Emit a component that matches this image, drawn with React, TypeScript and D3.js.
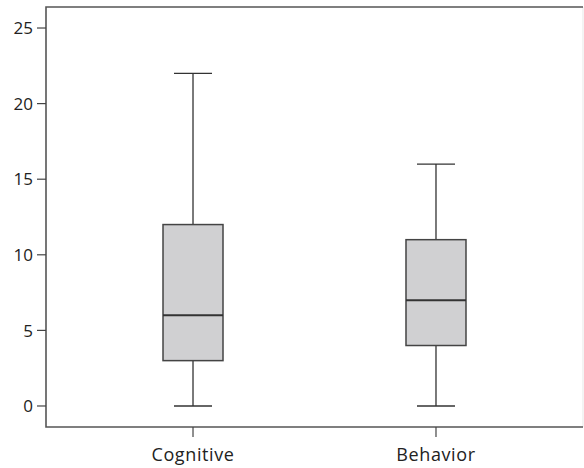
import { useEffect, useRef } from 'react'
import * as d3 from 'd3'

const categories = ['Cognitive', 'Behavior']
const whiskerLow = [0, 0]
const q1 = [3, 4]
const medians = [6, 7]
const q3 = [12, 11]
const whiskerHigh = [22, 16]
const yTicks = [0, 5, 10, 15, 20, 25]

export default function App() {
  const svgRef = useRef<SVGSVGElement>(null)

  useEffect(() => {
    if (!svgRef.current) return
    const svg = d3.select(svgRef.current)
    svg.selectAll('*').remove()

    const width = 584
    const height = 468
    const left = 46
    const right = 583
    const top = 7
    const bottom = 427
    const font = '"Open Sans", Lato, sans-serif'

    const y = d3.scaleLinear().domain([-1.39, 26.39]).range([bottom, top])
    const x = d3.scalePoint<string>().domain(categories).range([left, right]).padding(0.605)

    const data = categories.map((c, i) => ({
      name: c,
      lo: whiskerLow[i],
      q1: q1[i],
      med: medians[i],
      q3: q3[i],
      hi: whiskerHigh[i]
    }))

    // frame
    svg.append('rect')
      .attr('x', 0).attr('y', 0).attr('width', width).attr('height', height)
      .attr('fill', '#fff')
    svg.append('line')
      .attr('x1', right).attr('x2', right).attr('y1', top).attr('y2', bottom)
      .attr('stroke', '#ececec').attr('stroke-width', 1.2)
    svg.append('path')
      .attr('d', `M${right},${top}H${left}V${bottom}H${right}`)
      .attr('fill', 'none').attr('stroke', '#555').attr('stroke-width', 1.6)

    // y axis
    const yAxis = svg.append('g')
    yTicks.forEach(t => {
      yAxis.append('line')
        .attr('x1', left - 9).attr('x2', left).attr('y1', y(t)).attr('y2', y(t))
        .attr('stroke', '#444').attr('stroke-width', 1.2)
      yAxis.append('text')
        .attr('x', left - 13).attr('y', y(t)).attr('dy', '0.36em')
        .attr('text-anchor', 'end')
        .attr('font-family', font).attr('font-size', 17).attr('fill', '#222')
        .text(t)
    })

    // x axis
    const xAxis = svg.append('g')
    categories.forEach(c => {
      xAxis.append('line')
        .attr('x1', x(c)!).attr('x2', x(c)!).attr('y1', bottom).attr('y2', bottom + 10)
        .attr('stroke', '#444').attr('stroke-width', 1.2)
      xAxis.append('text')
        .attr('x', x(c)!).attr('y', 461)
        .attr('text-anchor', 'middle')
        .attr('font-family', font).attr('font-size', 18)
        .attr('letter-spacing', 0.6).attr('fill', '#222')
        .text(c)
    })

    const boxW = 60
    const capW = 38
    const boxes = svg.selectAll('.box').data(data).enter().append('g').attr('class', 'box')

    // whiskers
    boxes.append('line')
      .attr('x1', d => x(d.name)!).attr('x2', d => x(d.name)!)
      .attr('y1', d => y(d.hi)).attr('y2', d => y(d.q3))
      .attr('stroke', '#333').attr('stroke-width', 1.3)
    boxes.append('line')
      .attr('x1', d => x(d.name)!).attr('x2', d => x(d.name)!)
      .attr('y1', d => y(d.q1)).attr('y2', d => y(d.lo))
      .attr('stroke', '#333').attr('stroke-width', 1.3)
    boxes.append('line')
      .attr('x1', d => x(d.name)! - capW / 2).attr('x2', d => x(d.name)! + capW / 2)
      .attr('y1', d => y(d.hi)).attr('y2', d => y(d.hi))
      .attr('stroke', '#333').attr('stroke-width', 1.3)
    boxes.append('line')
      .attr('x1', d => x(d.name)! - capW / 2).attr('x2', d => x(d.name)! + capW / 2)
      .attr('y1', d => y(d.lo)).attr('y2', d => y(d.lo))
      .attr('stroke', '#333').attr('stroke-width', 1.3)

    // box
    boxes.append('rect')
      .attr('x', d => x(d.name)! - boxW / 2)
      .attr('y', d => y(d.q3))
      .attr('width', boxW)
      .attr('height', d => y(d.q1) - y(d.q3))
      .attr('fill', '#d0d0d2')
      .attr('stroke', '#444').attr('stroke-width', 1.5)

    // median
    boxes.append('line')
      .attr('x1', d => x(d.name)! - boxW / 2).attr('x2', d => x(d.name)! + boxW / 2)
      .attr('y1', d => y(d.med)).attr('y2', d => y(d.med))
      .attr('stroke', '#333').attr('stroke-width', 2)
  }, [])

  return (
    <div style={{ position: 'absolute', left: 0, top: 0 }}>
      <svg ref={svgRef} width={584} height={468} style={{ display: 'block' }} />
    </div>
  )
}
